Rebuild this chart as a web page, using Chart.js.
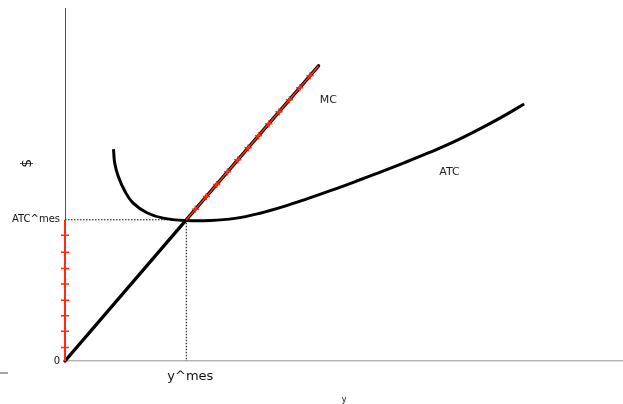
<!DOCTYPE html>
<html>
<head>
<meta charset="utf-8">
<script src="https://cdn.jsdelivr.net/npm/chart.js@4/dist/chart.umd.min.js"></script>
<style>
  html, body { margin: 0; padding: 0; background: #fff; }
  #wrap { width: 623px; height: 404px; position: relative; }
</style>
</head>
<body>
<div id="wrap"><canvas id="c"></canvas></div>
<script>
// Average total cost curve (output, $)
const atcX = [4.0, 4.1, 4.4, 4.95, 5.6, 6.75, 8.1, 10, 12, 14, 16, 18, 20, 22, 24, 26, 28, 30, 32, 34, 36, 37.85];
const atcY = [15.0, 14.0, 13.05, 12.0, 11.2, 10.5, 10.12, 9.95, 9.95, 10.1, 10.45, 10.93, 11.5, 12.1, 12.73, 13.38, 14.05, 14.75, 15.5, 16.35, 17.27, 18.2];

// Marginal cost line, origin to its upper end
const mcX = [0, 20.9];
const mcY = [0, 20.9];

// Marked section of MC above the minimum of ATC
const mcMarkX = [10, 10.75, 11.65, 12.5, 13.4, 14.25, 15.1, 15.95, 16.8, 17.65, 18.5, 19.35, 20.2, 20.9];
const mcMarkY = [10, 10.75, 11.65, 12.5, 13.4, 14.25, 15.1, 15.95, 16.8, 17.65, 18.5, 19.35, 20.2, 20.9];

// Marked segment along the $ axis, from 0 up to ATC^mes
const axisMarkX = [0, 0, 0, 0, 0, 0, 0, 0, 0, 0];
const axisMarkY = [10, 8.9, 7.7, 6.55, 5.45, 4.3, 3.2, 2.1, 0.95, 0];

// Reference point (y^mes, ATC^mes)
const yMes = 10;
const atcMes = 10;

// Axis ticks
const yTickValues = [0, 10];
const yTickLabels = ['0', 'ATC^mes'];
const xTickValues = [10];
const xTickLabels = ['y^mes'];

// Curve labels
const curveLabels = ['MC', 'ATC'];
const curveLabelX = [21.7, 31.7];
const curveLabelY = [18.45, 13.4];

// Vertical axis name and its height on the $ scale
const yAxisName = '$';
const yAxisNameAt = 14.0;

const pts = (xs, ys) => xs.map((x, i) => ({ x: x, y: ys[i] }));

const FONT = '"DejaVu Sans", sans-serif';
const RED = '#ff2a10';

const annotate = {
  id: 'annotate',
  afterDatasetsDraw(chart) {
    const { ctx, scales: { x, y }, chartArea } = chart;
    ctx.save();
    ctx.fillStyle = '#222';
    ctx.font = '11px ' + FONT;
    ctx.textAlign = 'center';
    ctx.textBaseline = 'middle';
    curveLabels.forEach((t, i) => {
      ctx.fillText(t, x.getPixelForValue(curveLabelX[i]), y.getPixelForValue(curveLabelY[i]));
    });
    // rotated $ name beside the vertical axis
    ctx.save();
    ctx.translate(chartArea.left - 38, y.getPixelForValue(yAxisNameAt));
    ctx.rotate(-Math.PI / 2);
    ctx.fillStyle = '#111';
    ctx.font = '14px ' + FONT;
    ctx.fillText(yAxisName, 0, 0);
    ctx.restore();
    // small stub below the axes at the left edge
    ctx.strokeStyle = '#888';
    ctx.lineWidth = 1.5;
    ctx.beginPath();
    ctx.moveTo(0, chartArea.bottom + 12);
    ctx.lineTo(8, chartArea.bottom + 12);
    ctx.stroke();
    ctx.restore();
  }
};

// Chart.js paints the first dataset last, so overlays come first here.
new Chart(document.getElementById('c'), {
  type: 'scatter',
  data: {
    datasets: [
      {
        data: pts(axisMarkX, axisMarkY),
        showLine: true, borderColor: RED, borderWidth: 2,
        pointStyle: 'cross', pointRadius: axisMarkY.map((v, i) => (i === 0 || i === axisMarkY.length - 1) ? 0 : 4),
        pointBorderColor: RED, pointBorderWidth: 1.5, clip: false
      },
      {
        data: pts(mcMarkX, mcMarkY),
        showLine: true, borderColor: RED, borderWidth: 1.6,
        pointStyle: 'cross', pointRadius: mcMarkX.map((v, i) => (i === 0 || i === mcMarkX.length - 1) ? 0 : 3.6),
        pointBorderColor: RED, pointBorderWidth: 1.4, clip: false
      },
      {
        data: pts(mcX, mcY),
        showLine: true, borderColor: '#000', borderWidth: 3.4, borderCapStyle: 'round',
        pointRadius: 0, clip: false
      },
      {
        data: pts(atcX, atcY),
        showLine: true, borderColor: '#000', borderWidth: 3, tension: 0.4,
        pointRadius: 0, clip: false
      },
      {
        data: pts([0, yMes], [atcMes, atcMes]),
        showLine: true, borderColor: '#000', borderWidth: 1, borderDash: [1.5, 1.5],
        pointRadius: 0, clip: false
      },
      {
        data: pts([yMes, yMes], [atcMes, 0]),
        showLine: true, borderColor: '#000', borderWidth: 1, borderDash: [1.5, 1.5],
        pointRadius: 0, clip: false
      }
    ]
  },
  options: {
    responsive: true,
    maintainAspectRatio: false,
    animation: false,
    layout: { padding: { top: 8, left: 0, right: 0, bottom: 0 } },
    plugins: { legend: { display: false }, tooltip: { enabled: false } },
    scales: {
      x: {
        type: 'linear', min: 0, max: 46,
        grid: { display: false, drawTicks: false },
        border: { display: true, color: '#b5b5b5', width: 1.5 },
        afterBuildTicks: (s) => { s.ticks = xTickValues.map(v => ({ value: v })); },
        afterFit: (s) => { s.height = 43; s.paddingLeft = 0; s.paddingRight = 0; },
        ticks: {
          padding: 8, labelOffset: 4, color: '#111', font: { family: FONT, size: 13 },
          maxRotation: 0, autoSkip: false,
          callback: (v) => { const i = xTickValues.indexOf(v); return i < 0 ? '' : xTickLabels[i]; }
        },
        title: { display: true, text: 'y', color: '#111', font: { family: FONT, size: 8, lineHeight: 1 }, padding: { top: 0, bottom: 0 } }
      },
      y: {
        type: 'linear', min: 0, max: 25,
        grid: { display: false, drawTicks: false },
        border: { display: true, color: '#555', width: 1 },
        afterBuildTicks: (s) => { s.ticks = yTickValues.map(v => ({ value: v })); },
        afterFit: (s) => { s.width = 65; s.paddingTop = 0; s.paddingBottom = 0; },
        ticks: {
          padding: 5, color: '#111', font: { family: FONT, size: 10 }, autoSkip: false,
          callback: (v) => { const i = yTickValues.indexOf(v); return i < 0 ? '' : yTickLabels[i]; }
        },
        title: { display: false }
      }
    }
  },
  plugins: [annotate]
});
</script>
</body>
</html>
